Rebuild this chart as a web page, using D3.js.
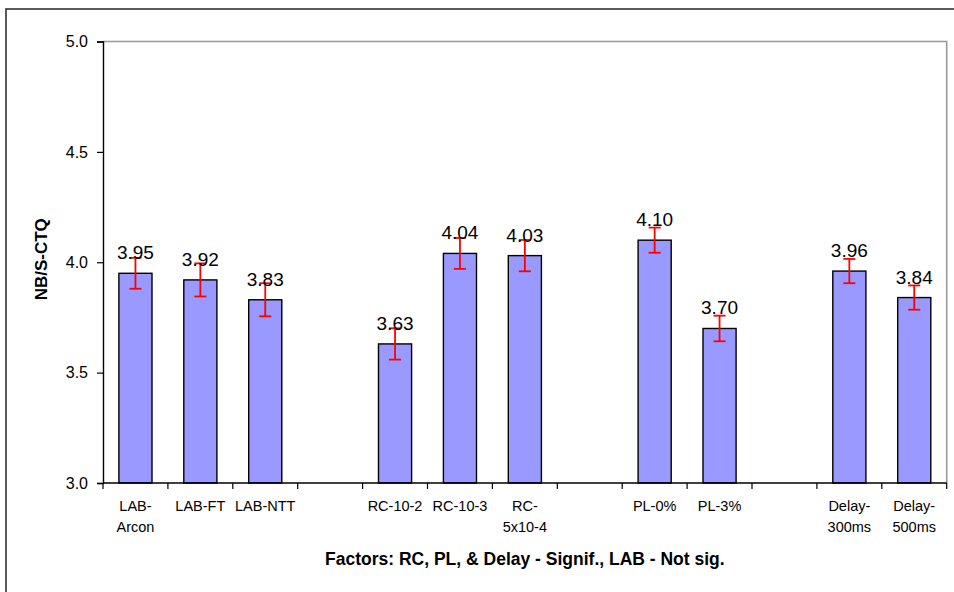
<!DOCTYPE html>
<html>
<head>
<meta charset="utf-8">
<script src="https://cdn.jsdelivr.net/npm/d3@7/dist/d3.min.js"></script>
<style>
  html, body { margin: 0; padding: 0; background: #fff; }
  svg { display: block; font-family: "Liberation Sans", Arial, sans-serif; }
</style>
</head>
<body>
<svg id="chart" width="954" height="592"></svg>
<script>
// ---- data ----
const categories = ["LAB-Arcon", "LAB-FT", "LAB-NTT", "gap1", "RC-10-2", "RC-10-3", "RC-5x10-4", "gap2", "PL-0%", "PL-3%", "gap3", "Delay-300ms", "Delay-500ms"];
const categoryLabels = [["LAB-", "Arcon"], ["LAB-FT"], ["LAB-NTT"], [], ["RC-10-2"], ["RC-10-3"], ["RC-", "5x10-4"], [], ["PL-0%"], ["PL-3%"], [], ["Delay-", "300ms"], ["Delay-", "500ms"]];
const values = [3.95, 3.92, 3.83, null, 3.63, 4.04, 4.03, null, 4.10, 3.70, null, 3.96, 3.84];
const errors = [0.07, 0.075, 0.075, null, 0.071, 0.07, 0.071, null, 0.057, 0.058, null, 0.055, 0.055];
const yTicks = [3.0, 3.5, 4.0, 4.5, 5.0];
const yTitle = "NB/S-CTQ";
const xTitle = "Factors: RC, PL, & Delay - Signif., LAB - Not sig.";

// ---- layout ----
const svg = d3.select("#chart");
const plot = { left: 103, right: 946.7, top: 41.5, bottom: 483 };

const x = d3.scaleBand().domain(categories).range([plot.left, plot.right])
  .paddingInner(0.49).paddingOuter(0.245);
const y = d3.scaleLinear().domain([3, 5]).range([plot.bottom, plot.top]);

// outer chart border
svg.append("rect").attr("x", 6).attr("y", 9).attr("width", 980).attr("height", 620)
  .attr("fill", "none").attr("stroke", "#333").attr("stroke-width", 1.6);

// plot area border (top & right grey)
svg.append("path")
  .attr("d", `M${plot.left},${plot.top}H${plot.right}V${plot.bottom}`)
  .attr("fill", "none").attr("stroke", "#999").attr("stroke-width", 1.6);

// bars
const data = categories.map((c, i) => ({ c, v: values[i], e: errors[i], i }));
const valid = data.filter(d => d.v != null);

svg.append("g").selectAll("rect").data(valid).join("rect")
  .attr("x", d => x(d.c))
  .attr("y", d => y(d.v))
  .attr("width", x.bandwidth())
  .attr("height", d => y(3) - y(d.v))
  .attr("fill", "#9999FF")
  .attr("stroke", "#000")
  .attr("stroke-width", 1.4);

// error bars
const eg = svg.append("g").attr("stroke", "#FF0000").attr("stroke-width", 1.8).attr("fill", "none");
valid.forEach(d => {
  const cx = x(d.c) + x.bandwidth() / 2;
  const y1 = y(d.v + d.e), y2 = y(d.v - d.e);
  eg.append("line").attr("x1", cx).attr("x2", cx).attr("y1", y1).attr("y2", y2);
  eg.append("line").attr("x1", cx - 6).attr("x2", cx + 6).attr("y1", y1).attr("y2", y1);
  eg.append("line").attr("x1", cx - 6).attr("x2", cx + 6).attr("y1", y2).attr("y2", y2);
});

// data labels
svg.append("g").selectAll("text").data(valid).join("text")
  .attr("x", d => x(d.c) + x.bandwidth() / 2)
  .attr("y", d => y(d.v) - 14)
  .attr("text-anchor", "middle")
  .attr("font-size", 19)
  .attr("fill", "#000")
  .text(d => d.v.toFixed(2));

// y axis
const yAxis = d3.axisLeft(y).tickValues(yTicks).tickFormat(d3.format(".1f")).tickSize(6).tickPadding(9);
const yg = svg.append("g").attr("transform", `translate(${plot.left},0)`).call(yAxis);
yg.select(".domain").attr("stroke", "#000").attr("stroke-width", 1.4);
yg.selectAll(".tick line").attr("stroke", "#000").attr("stroke-width", 1.2);
yg.selectAll(".tick text").attr("font-size", 16).attr("fill", "#000")
  .attr("font-family", "Liberation Sans, Arial, sans-serif");

// x axis line
svg.append("line").attr("x1", plot.left).attr("x2", plot.right)
  .attr("y1", plot.bottom).attr("y2", plot.bottom)
  .attr("stroke", "#000").attr("stroke-width", 1.6);

// x tick marks at category boundaries
const step = x.step();
const bounds = d3.range(categories.length + 1).map(i => plot.left + i * step);
svg.append("g").selectAll("line").data(bounds).join("line")
  .attr("x1", d => d).attr("x2", d => d)
  .attr("y1", plot.bottom).attr("y2", plot.bottom + 6)
  .attr("stroke", "#000").attr("stroke-width", 1.2);

// category labels
const cl = svg.append("g").attr("font-size", 14.5).attr("fill", "#000").attr("text-anchor", "middle");
categories.forEach((c, i) => {
  const cx = x(c) + x.bandwidth() / 2;
  categoryLabels[i].forEach((line, j) => {
    cl.append("text").attr("x", cx).attr("y", 510.5 + j * 21).text(line);
  });
});

// axis titles
svg.append("text")
  .attr("x", (plot.left + plot.right) / 2).attr("y", 565)
  .attr("text-anchor", "middle").attr("font-weight", "bold").attr("font-size", 17.5)
  .text(xTitle);

svg.append("text")
  .attr("transform", `translate(46.5,${(plot.top + plot.bottom) / 2 - 3}) rotate(-90)`)
  .attr("text-anchor", "middle").attr("font-weight", "bold").attr("font-size", 17)
  .text(yTitle);
</script>
</body>
</html>
